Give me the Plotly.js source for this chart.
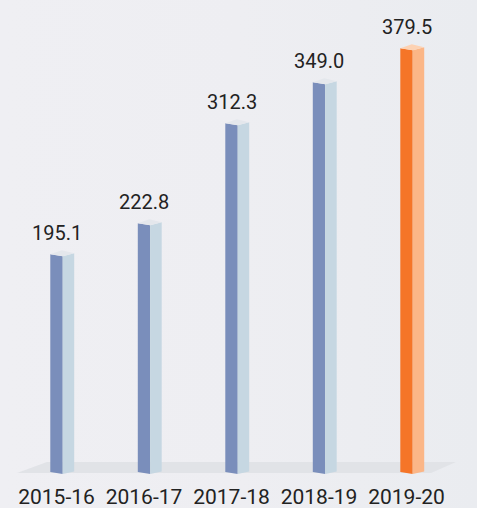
<!DOCTYPE html>
<html>
<head>
<meta charset="utf-8">
<script src="https://cdn.plot.ly/plotly-3.0.1.min.js"></script>
<style>
  html, body { margin: 0; padding: 0; }
  body { background: linear-gradient(to right, #efeff3 0%, #eeeef2 50%, #eaecf0 100%); }
  #chart { width: 477px; height: 508px; }
</style>
</head>
<body>
<div id="chart"></div>
<script>
// ---- data ----
const categories = ["2015-16", "2016-17", "2017-18", "2018-19", "2019-20"];
const values = [195.1, 222.8, 312.3, 349.0, 379.5];
const valueLabels = ["195.1", "222.8", "312.3", "349.0", "379.5"];

// ---- styles ----
const blue = { front: "#7a8ebb", side: "#c6d7e2", top: "#e4e7ec" };
const orange = { front: "#f57528", side: "#fbb687", top: "#fdd2b3" };
const highlightIndex = 4;

// pixel geometry helpers (converted to data units via axis scales)
const W = 477, H = 508;
const xPxPerUnit = 87.5;          // spacing of categories
const xStartPx = 56.5;            // centre of first front face
const xRange = [-xStartPx / xPxPerUnit, (W - xStartPx) / xPxPerUnit];
const yPxPerUnit = 1.1166;
const zeroPx = 472;
const yRange = [-(H - zeroPx) / yPxPerUnit, zeroPx / yPxPerUnit];
const px = p => p / xPxPerUnit;
const py = p => p / yPxPerUnit;

const halfFront = 6.2, sideW = 11.5;
const frDy = -2, srDy = 1, bDy = 4;      // top face offsets (px, up positive)
const srDyBottom = 0.4;

const traces = [];
values.forEach((v, i) => {
  const c = i === highlightIndex ? orange : blue;
  const xl = i - px(halfFront), xr = i + px(halfFront), xs = xr + px(sideW);
  const xb = xl + px(sideW);
  // front face
  traces.push({
    type: "scatter", mode: "lines", fill: "toself", fillcolor: c.front,
    line: { width: 0, color: c.front }, hoverinfo: "skip", showlegend: false,
    x: [xl, xr, xr, xl, xl],
    y: [0, py(frDy), v + py(frDy), v, 0]
  });
  // side face
  traces.push({
    type: "scatter", mode: "lines", fill: "toself", fillcolor: c.side,
    line: { width: 0, color: c.side }, hoverinfo: "skip", showlegend: false,
    x: [xr, xs, xs, xr, xr],
    y: [py(frDy), py(srDyBottom), v + py(srDy), v + py(frDy), py(frDy)]
  });
  // top face
  traces.push({
    type: "scatter", mode: "lines", fill: "toself", fillcolor: c.top,
    line: { width: 0, color: c.top }, hoverinfo: "skip", showlegend: false,
    x: [xl, xr, xs, xb, xl],
    y: [v, v + py(frDy), v + py(srDy), v + py(bDy), v]
  });
});

const annotations = values.map((v, i) => ({
  x: i, y: v, xref: "x", yref: "y", text: valueLabels[i], showarrow: false,
  xanchor: "center", yanchor: "middle", yshift: 21,
  font: { family: "Roboto, sans-serif", size: 20, color: "#222222" }
}));

// floor band (paper coords)
const fx = p => p / W, fy = p => 1 - p / H;
const floorPath = `M ${fx(17)},${fy(473)} L ${fx(47)},${fy(462)} L ${fx(456)},${fy(462)} L ${fx(431)},${fy(473)} Z`;

const layout = {
  width: W, height: H,
  margin: { l: 0, r: 0, t: 0, b: 0, pad: 0 },
  paper_bgcolor: "rgba(0,0,0,0)",
  plot_bgcolor: "rgba(0,0,0,0)",
  showlegend: false,
  xaxis: {
    range: xRange, showgrid: false, zeroline: false, showline: false,
    tickmode: "array", tickvals: categories.map((_, i) => i), ticktext: categories,
    ticks: "", ticklabelposition: "inside", ticklabelstandoff: -3,
    tickfont: { family: "Roboto, sans-serif", size: 21, color: "#222222" },
    fixedrange: true
  },
  yaxis: {
    range: yRange, showgrid: false, zeroline: false, showline: false,
    showticklabels: false, ticks: "", fixedrange: true
  },
  shapes: [{
    type: "path", xref: "paper", yref: "paper", path: floorPath,
    fillcolor: "#e1e3e7", line: { width: 0 }, layer: "below"
  }],
  annotations: annotations
};

Plotly.newPlot("chart", traces, layout, { displayModeBar: false, staticPlot: true });
</script>
</body>
</html>
